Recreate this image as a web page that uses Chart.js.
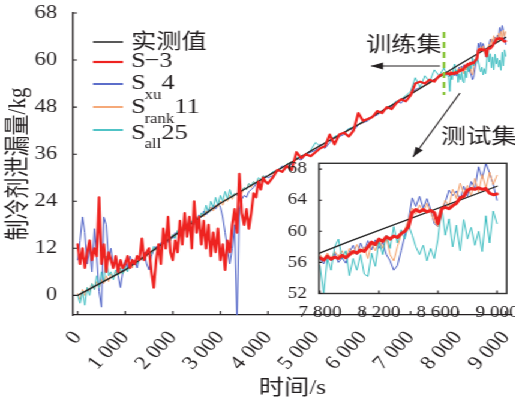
<!DOCTYPE html>
<html>
<head>
<meta charset="utf-8">
<script src="https://cdn.jsdelivr.net/npm/chart.js@4.4.1/dist/chart.umd.min.js"></script>
<style>
  html, body { margin: 0; padding: 0; background: #fff; overflow: hidden; }
  /* the source figure is stretched sideways, so the whole drawing is too */
  #stage { position: relative; width: 429px; height: 403px; transform: scaleX(1.2); transform-origin: 0 0; }
  #stage canvas { position: absolute; }
  #main { left: 0; top: 0; }
  #inset { left: 240px; top: 150px; }
</style>
</head>
<body>
<div id="stage">
  <canvas id="main" width="429" height="403"></canvas>
  <canvas id="inset" width="189" height="170"></canvas>
</div>
<script>
// ---- sample times (s) ----
const timeA = [0, 50, 100, 150, 200, 250, 300, 350, 400, 450, 500, 550, 600, 650, 700, 750, 800, 850, 900, 950,
  1000, 1050, 1100, 1150, 1200, 1250, 1300, 1350, 1400, 1450, 1500, 1550, 1600, 1650, 1700, 1750, 1800, 1850, 1900, 1950,
  2000, 2050, 2100, 2150, 2200, 2250, 2300, 2350, 2400, 2450, 2500, 2550, 2600, 2650, 2700, 2750, 2800, 2850, 2900, 2950,
  3000, 3050, 3100, 3150, 3200, 3250, 3300, 3350, 3400, 3450, 3500, 3550, 3600, 3650, 3700, 3750, 3800, 3850, 3900, 3950];
const timeB = [4000, 4100, 4200, 4300, 4400, 4500, 4600, 4700, 4800, 4900, 5000, 5100, 5200, 5300, 5400, 5500, 5600, 5700, 5800, 5900,
  6000, 6100, 6200, 6300, 6400, 6500, 6600, 6700, 6800, 6900, 7000, 7100, 7200, 7300, 7400, 7500, 7600, 7700];
const timeC = [7800, 7825, 7850, 7875, 7900, 7925, 7950, 7975, 8000, 8025, 8050, 8075, 8100, 8125, 8150, 8175,
  8200, 8225, 8250, 8275, 8300, 8325, 8350, 8375, 8400, 8425, 8450, 8475, 8500, 8525, 8550, 8575,
  8600, 8625, 8650, 8675, 8700, 8725, 8750, 8775, 8800, 8825, 8850, 8875, 8900, 8925, 8950, 8975, 9000];

// ---- measured value (black) ----
const actualTime = [0, 1000, 2000, 3000, 4000, 5000, 6000, 7000, 8000, 9000];
const actualKg = [0, 6.5, 15, 23.5, 30.5, 37.5, 44.2, 51.3, 58.7, 65.8];

// ---- S-3 (red) ----
const s3A = [13, 8, 12, 7, 11, 14, 9, 12, 10, 25, 8, 13, 6, 11, 9, 7, 10, 6, 9, 7,
  8, 10, 7, 9, 8, 10, 9, 14.5, 9, 11, 12, 6, 2, 9, 13, 8, 17, 12, 20, 11,
  9, 14, 11, 19, 13, 21, 15, 20, 12, 24, 16, 20, 13, 19, 12, 18, 10, 16, 11, 17,
  9, 13, 6.5, 14, 11, 18, 22, 16, 31, 21, 18, 22, 17, 21, 26, 25, 29, 27, 30, 29];
const s3B = [28.5, 30, 32, 31.5, 33, 32, 36.5, 35, 36, 35.5, 36.5, 37.5, 38, 41, 38.5, 41, 41.5, 40.5, 42, 46.5,
  44.5, 45, 45.5, 47, 46.5, 48, 47.5, 49, 50, 49.5, 51, 54, 54.5, 54, 55, 54.5, 56, 56.5];
const s3C = [56.6, 56.3, 56.8, 56.4, 56.7, 56.5, 56.9, 56.6, 57.0, 57.4, 57.2, 57.6, 57.4, 58.0, 58.6, 58.3,
  59.0, 58.7, 59.3, 59.0, 59.4, 59.2, 59.7, 60.0, 60.6, 62.4, 62.8, 62.5, 62.8, 62.5, 62.7, 62.4,
  61.0, 62.9, 63.1, 62.9, 63.3, 63.6, 64.3, 64.5, 65.3, 65.5, 65.4, 65.6, 65.4, 65.5, 64.9, 64.7, 64.8];

// ---- Sxu 4 (blue) ----
const sxuA = [9, 14, 20, 16, 8, 12, 6, 17, 10, 1, -3, 20, 18, 9, 12, 7, 10, 5, 2, 6,
  9, 7, 10, 8, 9, 7, 10, 9, 11, 8, 6.5, 10, 11.5, 12.5, 12, 13.5, 13, 14.5, 13.5, 15,
  14.5, 16, 15.5, 17.5, 16.5, 18, 17.5, 19, 18.5, 20, 19, 20.5, 20, 21.5, 20.5, 22, 21.5, 23, 22, 23.5,
  22.5, 20, 16, 12, 8, 12, 18, -6, 22, 24.5, 25.5, 25, 26.5, 27, 27.5, 28.5, 28, 29.5, 30, 30.5];
const sxuB = [30, 30.5, 31.5, 33, 32.5, 33.5, 35, 34.5, 36, 36.5, 37, 38.5, 37.5, 39, 40, 40.5, 41, 42.5, 42, 43.5,
  44, 44.5, 45.5, 46, 47, 47.5, 48, 49.5, 49, 50.5, 51, 52.5, 53, 53.5, 54.5, 55, 56, 56];
const sxuC = [56.5, 55.8, 56.9, 56.2, 57.2, 56.0, 56.6, 55.9, 57.3, 58.2, 57.0, 58.5, 57.4, 58.8, 57.6, 58.9,
  57.8, 58.6, 57.0, 56.2, 55.0, 55.6, 57.5, 59.4, 61.5, 64.3, 63.2, 64.5, 63.0, 64.2, 62.8, 61.0,
  60.6, 62.5, 63.8, 65.3, 64.6, 65.2, 64.0, 65.8, 64.5, 66.4, 65.5, 68.3, 66.8, 68.8, 67.5, 66.0, 64.0];

// ---- Srank 11 (orange) ----
const srankA = [0.5, -1, 1.5, 0, 2, 1, 3, 1.5, 3.5, 2, 4, 3, 5, 3.5, 5.5, 4.5, 6, 5, 6.5, 5.5,
  7, 6.5, 8, 7, 9, 8, 10, 9, 10.5, 10, 11.5, 10.5, 12, 11.5, 13, 12.5, 14, 13, 15, 14,
  15.5, 15, 16.5, 15.5, 17.5, 16.5, 18, 17.5, 19, 18.5, 20, 19, 21, 20, 21.5, 21, 22.5, 21.5, 23, 22.5,
  24, 23, 24.5, 24, 25.5, 24.5, 26, 25.5, 27, 26, 27.5, 27, 28.5, 27.5, 29, 28.5, 29.5, 29, 30.5, 30];
const srankB = [30.5, 31, 32, 32.5, 33.5, 34, 34.5, 35.5, 36, 37, 37.5, 38, 39, 39.5, 40, 41, 41.5, 42, 43, 43.5,
  44, 45, 45.5, 46.5, 47, 47.5, 48.5, 49, 50, 50.5, 51.5, 52, 53, 53.5, 54, 55, 55.5, 56.5];
const srankC = [57.0, 56.4, 57.2, 56.5, 57.4, 56.8, 57.5, 56.6, 57.8, 57.0, 58.3, 57.2, 58.0, 56.5, 58.6, 57.5,
  59.0, 57.8, 59.2, 57.0, 56.2, 58.0, 59.6, 60.2, 61.5, 63.0, 62.2, 63.4, 62.5, 63.6, 62.4, 61.3,
  60.6, 62.8, 64.0, 63.2, 65.4, 64.2, 66.2, 64.8, 65.9, 64.6, 66.8, 65.0, 67.3, 65.5, 67.6, 66.0, 67.2];

// ---- Sall 25 (cyan) ----
const sallA = [0, -2, 1, -2.5, 2, 0, 3, 1.5, 5, 2, 6, 3.5, 10, 5, 6, 4, 6.5, 5, 7, 5.5,
  7.5, 6, 8, 7.5, 9, 8, 9.5, 9, 10.5, 10, 11.5, 10.5, 12.5, 11.5, 13, 12, 14, 13, 14.5, 14,
  15.5, 14.5, 16.5, 15.5, 17, 16.5, 18, 17.5, 19, 18, 20, 19, 21, 20.5, 23, 21, 24, 22.5, 25, 23,
  25.5, 24, 26.5, 24.5, 27, 25, 26, 25.5, 27, 26.5, 27.5, 27, 28.5, 28, 29, 28.5, 30, 29.5, 30.5, 30];
const sallB = [30.5, 31.5, 32, 32.5, 33.5, 34, 35, 35.5, 36, 37, 39, 38, 39, 39.5, 40.5, 41, 41.5, 42.5, 43, 43.5,
  44.5, 45, 45.5, 46.5, 47, 48, 48.5, 49.5, 50, 51, 52, 55.5, 53, 56, 54.5, 57.5, 56, 58];
const sallC = [55.5, 52.0, 56.5, 55.0, 58.0, 59.0, 56.5, 57.5, 54.3, 56.5, 55.0, 57.0, 54.5, 54.2, 57.2, 55.5,
  58.8, 57.0, 59.5, 57.8, 60.6, 58.5, 60.2, 59.0, 60.8, 59.5, 58.0, 57.0, 58.2, 56.2, 57.8, 56.5,
  59.0, 63.0, 59.5, 61.6, 58.0, 60.8, 57.5, 61.5, 59.0, 60.5, 58.2, 60.0, 57.4, 62.0, 58.5, 62.6, 61.0];

// ---- ticks ----
const mainXTicks = [0, 1000, 2000, 3000, 4000, 5000, 6000, 7000, 8000, 9000];
const mainXLabels = ['0', '1 000', '2 000', '3 000', '4 000', '5 000', '6 000', '7 000', '8 000', '9 000'];
const mainYTicks = [0, 12, 24, 36, 48, 60, 72];
const mainYLabels = ['0', '12', '24', '36', '48', '60', '68'];
const insetXTicks = [7800, 8200, 8600, 9000];
const insetXLabels = ['7 800', '8 200', '8 600', '9 000'];
const insetYTicks = [52, 56, 60, 64, 68];
const insetYLabels = ['52', '56', '60', '64', '68'];

const STRETCH = 1.2;
const sx = v => v / STRETCH; // picture x -> canvas x
const SERIF = '"Liberation Serif", "Times New Roman", serif';
const CJK = '"Liberation Serif", "Noto Sans CJK SC", sans-serif';
const INK = '#231f20';

const RED = '#ee2320';
const BLUE = '#4a5ec4';
const ORANGE = '#f4a06a';
const CYAN = '#3dbdc0';

const pts = (ts, vs) => ts.map((t, i) => ({ x: t, y: vs[i] }));

function makeDatasets(redWidth) {
  const line = (data, color, width) => ({
    data, borderColor: color, borderWidth: width, pointRadius: 0,
    tension: 0, fill: false, borderJoinStyle: 'round', borderCapStyle: 'round'
  });
  // first dataset ends up on top
  return [
    line(pts([...timeA, ...timeB, ...timeC], [...s3A, ...s3B, ...s3C]), RED, redWidth),
    line(pts(actualTime, actualKg), '#222', 1.3),
    line(pts([...timeA, ...timeB, ...timeC], [...sallA, ...sallB, ...sallC]), CYAN, 1),
    line(pts([...timeA, ...timeB, ...timeC], [...srankA, ...srankB, ...srankC]), ORANGE, 1),
    line(pts([...timeA, ...timeB, ...timeC], [...sxuA, ...sxuB, ...sxuC]), BLUE, 1)
  ];
}

// tick marks point into the plot
const inwardTicks = {
  id: 'inwardTicks',
  afterDraw(chart, args, opts) {
    const { ctx, chartArea: a, scales: { x, y } } = chart;
    ctx.save();
    ctx.strokeStyle = INK;
    ctx.lineWidth = 1.1;
    ctx.beginPath();
    x.ticks.forEach(t => {
      const px = x.getPixelForValue(t.value);
      ctx.moveTo(px, a.bottom);
      ctx.lineTo(px, a.bottom - opts.len);
    });
    y.ticks.forEach(t => {
      const py = y.getPixelForValue(t.value);
      ctx.moveTo(a.left, py);
      ctx.lineTo(a.left + opts.len / STRETCH, py);
    });
    ctx.stroke();
    ctx.restore();
  }
};

function arrow(ctx, x1, y1, x2, y2, head) {
  ctx.beginPath();
  ctx.moveTo(x1, y1);
  ctx.lineTo(x2, y2);
  ctx.stroke();
  const a = Math.atan2(y2 - y1, x2 - x1);
  const w = head * 0.35;
  ctx.beginPath();
  ctx.moveTo(x2, y2);
  ctx.lineTo(x2 - head * Math.cos(a) + w * Math.sin(a), y2 - head * Math.sin(a) - w * Math.cos(a));
  ctx.lineTo(x2 - head * Math.cos(a) - w * Math.sin(a), y2 - head * Math.sin(a) + w * Math.cos(a));
  ctx.closePath();
  ctx.fill();
}

// S with subscript and a trailing number
function subLabel(ctx, x, y, sub, tail, subDy) {
  ctx.font = `22px ${SERIF}`;
  ctx.fillText('S', x, y);
  let cx = x + ctx.measureText('S').width - 1;
  if (sub) {
    ctx.font = `14px ${SERIF}`;
    ctx.fillText(sub, cx, y + subDy);
    cx += ctx.measureText(sub).width;
  }
  ctx.font = `22px ${SERIF}`;
  ctx.fillText(tail, cx, y);
}

const annotations = {
  id: 'annotations',
  afterDraw(chart) {
    const ctx = chart.ctx;
    ctx.save();
    ctx.textBaseline = 'middle';
    ctx.textAlign = 'left';
    ctx.fillStyle = INK;

    // legend
    const rows = [
      { color: '#222', w: 1.5, y: 42 },
      { color: RED, w: 2.2, y: 62 },
      { color: BLUE, w: 1.8, y: 84 },
      { color: ORANGE, w: 1.8, y: 107 },
      { color: CYAN, w: 1.8, y: 130 }
    ];
    rows.forEach(r => {
      ctx.strokeStyle = r.color;
      ctx.lineWidth = r.w;
      ctx.beginPath();
      ctx.moveTo(sx(93), r.y);
      ctx.lineTo(sx(123), r.y);
      ctx.stroke();
    });
    const tx = sx(131);
    ctx.font = `21px ${CJK}`;
    ctx.fillText('实测值', tx, 42);
    subLabel(ctx, tx, 61, '', '−3', 0);
    subLabel(ctx, tx, 83, 'xu', '4', 12);
    subLabel(ctx, tx, 107, 'rank', '11', 12);
    subLabel(ctx, tx, 133, 'all', '25', 11);

    // training / test split
    ctx.strokeStyle = '#8cc63f';
    ctx.lineWidth = 2.4;
    ctx.setLineDash([6, 4]);
    ctx.beginPath();
    ctx.moveTo(sx(444), 32);
    ctx.lineTo(sx(444), 95);
    ctx.stroke();
    ctx.setLineDash([]);

    ctx.font = `21px ${CJK}`;
    ctx.fillStyle = INK;
    ctx.fillText('训练集', sx(366), 45);
    ctx.fillText('测试集', sx(441), 137);

    ctx.strokeStyle = INK;
    ctx.lineWidth = 1.1;
    arrow(ctx, sx(440), 66, sx(371), 66, 10);
    arrow(ctx, sx(460), 93, sx(413), 157, 10);
    ctx.restore();
  }
};

new Chart(document.getElementById('main'), {
  type: 'line',
  data: { datasets: makeDatasets(2.2) },
  plugins: [inwardTicks, annotations],
  options: {
    responsive: false,
    animation: false,
    devicePixelRatio: 1,
    events: [],
    layout: { padding: { top: 13, right: 2.3, left: 0, bottom: 0 } },
    plugins: {
      legend: { display: false },
      tooltip: { enabled: false },
      inwardTicks: { len: 4 }
    },
    scales: {
      x: {
        type: 'linear',
        min: -99,
        max: 9133,
        afterBuildTicks: s => { s.ticks = mainXTicks.map(v => ({ value: v })); },
        afterFit: s => { s.height = 88; s.paddingLeft = 0; s.paddingRight = 0; },
        grid: { display: false },
        border: { display: true, color: INK, width: 1.3 },
        ticks: {
          autoSkip: false,
          minRotation: 50,
          maxRotation: 50,
          padding: 4,
          color: INK,
          font: { family: SERIF, size: 19 },
          callback: (v, i) => mainXLabels[i]
        },
        title: {
          display: true,
          text: '时间/s',
          color: INK,
          font: { family: CJK, size: 21 },
          padding: { top: 0, bottom: 2 }
        }
      },
      y: {
        min: -5,
        max: 72,
        afterBuildTicks: s => { s.ticks = mainYTicks.map(v => ({ value: v })); },
        afterFit: s => { s.width = 60.8; s.paddingTop = 0; s.paddingBottom = 0; },
        grid: { display: false },
        border: { display: true, color: INK, width: 1.3 },
        ticks: {
          padding: 5,
          color: INK,
          font: { family: SERIF, size: 19 },
          callback: (v, i) => mainYLabels[i]
        },
        title: {
          display: true,
          text: '制冷剂泄漏量/kg',
          color: INK,
          font: { family: CJK, size: 21 },
          padding: { top: 3, bottom: 0 }
        }
      }
    }
  }
});

// white plot area and full frame for the zoomed view
const insetFrame = {
  id: 'insetFrame',
  beforeDraw(chart) {
    const { ctx, chartArea: a } = chart;
    ctx.save();
    ctx.fillStyle = '#fff';
    ctx.fillRect(a.left, a.top, a.right - a.left, a.bottom - a.top);
    ctx.restore();
  },
  afterDraw(chart) {
    const { ctx, chartArea: a } = chart;
    ctx.save();
    ctx.strokeStyle = '#333';
    ctx.lineWidth = 1.4;
    ctx.strokeRect(a.left, a.top, a.right - a.left, a.bottom - a.top);
    ctx.restore();
  }
};

new Chart(document.getElementById('inset'), {
  type: 'line',
  data: { datasets: makeDatasets(3) },
  plugins: [insetFrame, inwardTicks],
  options: {
    responsive: false,
    animation: false,
    devicePixelRatio: 1,
    events: [],
    layout: { padding: { top: 13.3, right: 6.75, left: 0, bottom: 0 } },
    plugins: {
      legend: { display: false },
      tooltip: { enabled: false },
      inwardTicks: { len: 3 }
    },
    scales: {
      x: {
        type: 'linear',
        min: 7793,
        max: 9066,
        afterBuildTicks: s => { s.ticks = insetXTicks.map(v => ({ value: v })); },
        afterFit: s => { s.height = 26.5; s.paddingLeft = 0; s.paddingRight = 0; },
        grid: { display: false },
        border: { display: false },
        ticks: {
          autoSkip: false,
          maxRotation: 0,
          padding: 2,
          color: INK,
          font: { family: SERIF, size: 16 },
          callback: (v, i) => insetXLabels[i]
        }
      },
      y: {
        min: 52,
        max: 68.75,
        afterBuildTicks: s => { s.ticks = insetYTicks.map(v => ({ value: v })); },
        afterFit: s => { s.width = 25.8; s.paddingTop = 0; s.paddingBottom = 0; },
        grid: { display: false },
        border: { display: false },
        ticks: {
          padding: 2,
          color: INK,
          font: { family: SERIF, size: 16 },
          callback: (v, i) => insetYLabels[i]
        }
      }
    }
  }
});
</script>
</body>
</html>
